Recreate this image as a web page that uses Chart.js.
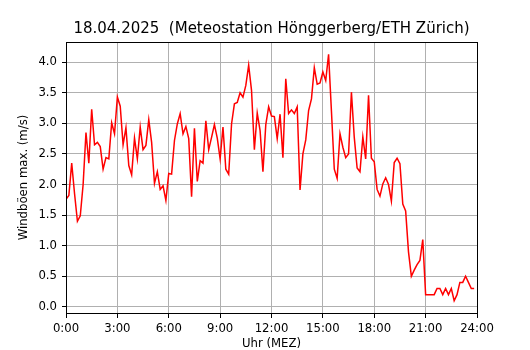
<!DOCTYPE html>
<html><head><meta charset="utf-8">
<script src="https://cdn.jsdelivr.net/npm/chart.js@4.4.1/dist/chart.umd.min.js"></script>
<style>html,body{margin:0;padding:0;background:#fff}</style>
</head><body>
<canvas id="c" width="530" height="350" style="display:block;width:530px;height:350px"></canvas>
<script>
const chartTitle = '18.04.2025  (Meteostation Hönggerberg/ETH Zürich)';
const xAxisTitle = 'Uhr (MEZ)';
const yAxisTitle = 'Windböen max. (m/s)';
const intervalMinutes = 10;
const gusts = [
  1.76,1.82,2.35,1.85,1.40,1.49,2.00,2.85,2.35,3.23,2.65,2.69,2.62,2.25,2.44,2.42,3.01,2.83,
  3.43,3.28,2.65,2.93,2.31,2.16,2.76,2.42,2.94,2.57,2.64,3.06,2.69,2.02,2.21,1.92,1.98,1.74,
  2.18,2.17,2.72,2.99,3.16,2.83,2.95,2.75,1.80,2.92,2.05,2.39,2.35,3.04,2.57,2.77,2.98,2.76,
  2.42,2.94,2.25,2.17,2.99,3.32,3.34,3.50,3.43,3.62,3.95,3.54,2.57,3.17,2.88,2.21,2.98,3.27,
  3.12,3.11,2.75,3.15,2.44,3.73,3.16,3.22,3.16,3.27,1.91,2.50,2.73,3.21,3.40,3.91,3.64,3.66,
  3.84,3.70,4.13,3.20,2.25,2.10,2.83,2.61,2.44,2.50,3.51,2.77,2.27,2.21,2.78,2.42,3.46,2.43,
  2.37,1.92,1.81,2.01,2.11,2.00,1.73,2.36,2.43,2.34,1.68,1.57,0.90,0.50,0.60,0.69,0.76,1.10,
  0.2,0.2,0.2,0.2,0.3,0.3,0.2,0.3,0.2,0.3,0.1,0.2,0.4,0.4,0.5,0.4,0.3,0.3
];
const xTickHours = [0,3,6,9,12,15,18,21,24];
const yTickValues = [0,0.5,1,1.5,2,2.5,3,3.5,4];

const points = gusts.map((v,i)=>({x: i*intervalMinutes/60, y: v}));
const FONT = 'DejaVu Sans';

const framePlugin = {
  id:'frame',
  afterDraw(chart){
    const {ctx, chartArea:a} = chart;
    ctx.save();
    ctx.strokeStyle='#000'; ctx.lineWidth=1;
    ctx.strokeRect(Math.round(a.left)+0.5, Math.round(a.top)+0.5, Math.round(a.right-a.left), Math.round(a.bottom-a.top));
    ctx.fillStyle='#000';
    ctx.font = '15px "' + FONT + '"';
    ctx.textAlign='center'; ctx.textBaseline='middle';
    ctx.fillText(chartTitle, (a.left+a.right)/2, 29.5);
    ctx.restore();
  }
};

new Chart(document.getElementById('c'), {
  type:'line',
  data:{datasets:[{data:points, borderColor:'#ff0000', borderWidth:1.5, pointRadius:0, tension:0, fill:false}]},
  options:{
    responsive:false, animation:false, devicePixelRatio:1,
    layout:{padding:{top:42,left:0,right:53,bottom:0}},
    plugins:{
      legend:{display:false}, tooltip:{enabled:false}, title:{display:false}
    },
    scales:{
      x:{type:'linear', min:0, max:24,
        afterBuildTicks(s){ s.ticks = xTickHours.map(v=>({value:v})); },
        afterFit(s){ s.height = 37; },
        ticks:{color:'#000', font:{family:FONT,size:11.7,lineHeight:1.2}, padding:4.3, maxRotation:0, autoSkip:false,
          callback:(v)=> v + ':00'},
        grid:{color:'#b0b0b0', lineWidth:1, tickColor:'#000', tickLength:5},
        border:{color:'#000', width:1},
        title:{display:true, text:xAxisTitle, color:'#000', font:{family:FONT,size:11.7,lineHeight:1}, padding:{top:0,bottom:0.3}}
      },
      y:{type:'linear', min:-0.1, max:4.33,
        afterBuildTicks(s){ s.ticks = yTickValues.map(v=>({value:v})); },
        afterFit(s){ s.width = 66; },
        ticks:{color:'#000', font:{family:FONT,size:11.7}, padding:5,
          callback:(v)=> Number(v).toFixed(1)},
        grid:{color:'#b0b0b0', lineWidth:1, tickColor:'#000', tickLength:4},
        border:{color:'#000', width:1},
        title:{display:true, text:yAxisTitle, color:'#000', font:{family:FONT,size:11.7,lineHeight:1}, padding:{top:18.5,bottom:0}}
      }
    }
  },
  plugins:[framePlugin]
});
</script>
</body></html>
